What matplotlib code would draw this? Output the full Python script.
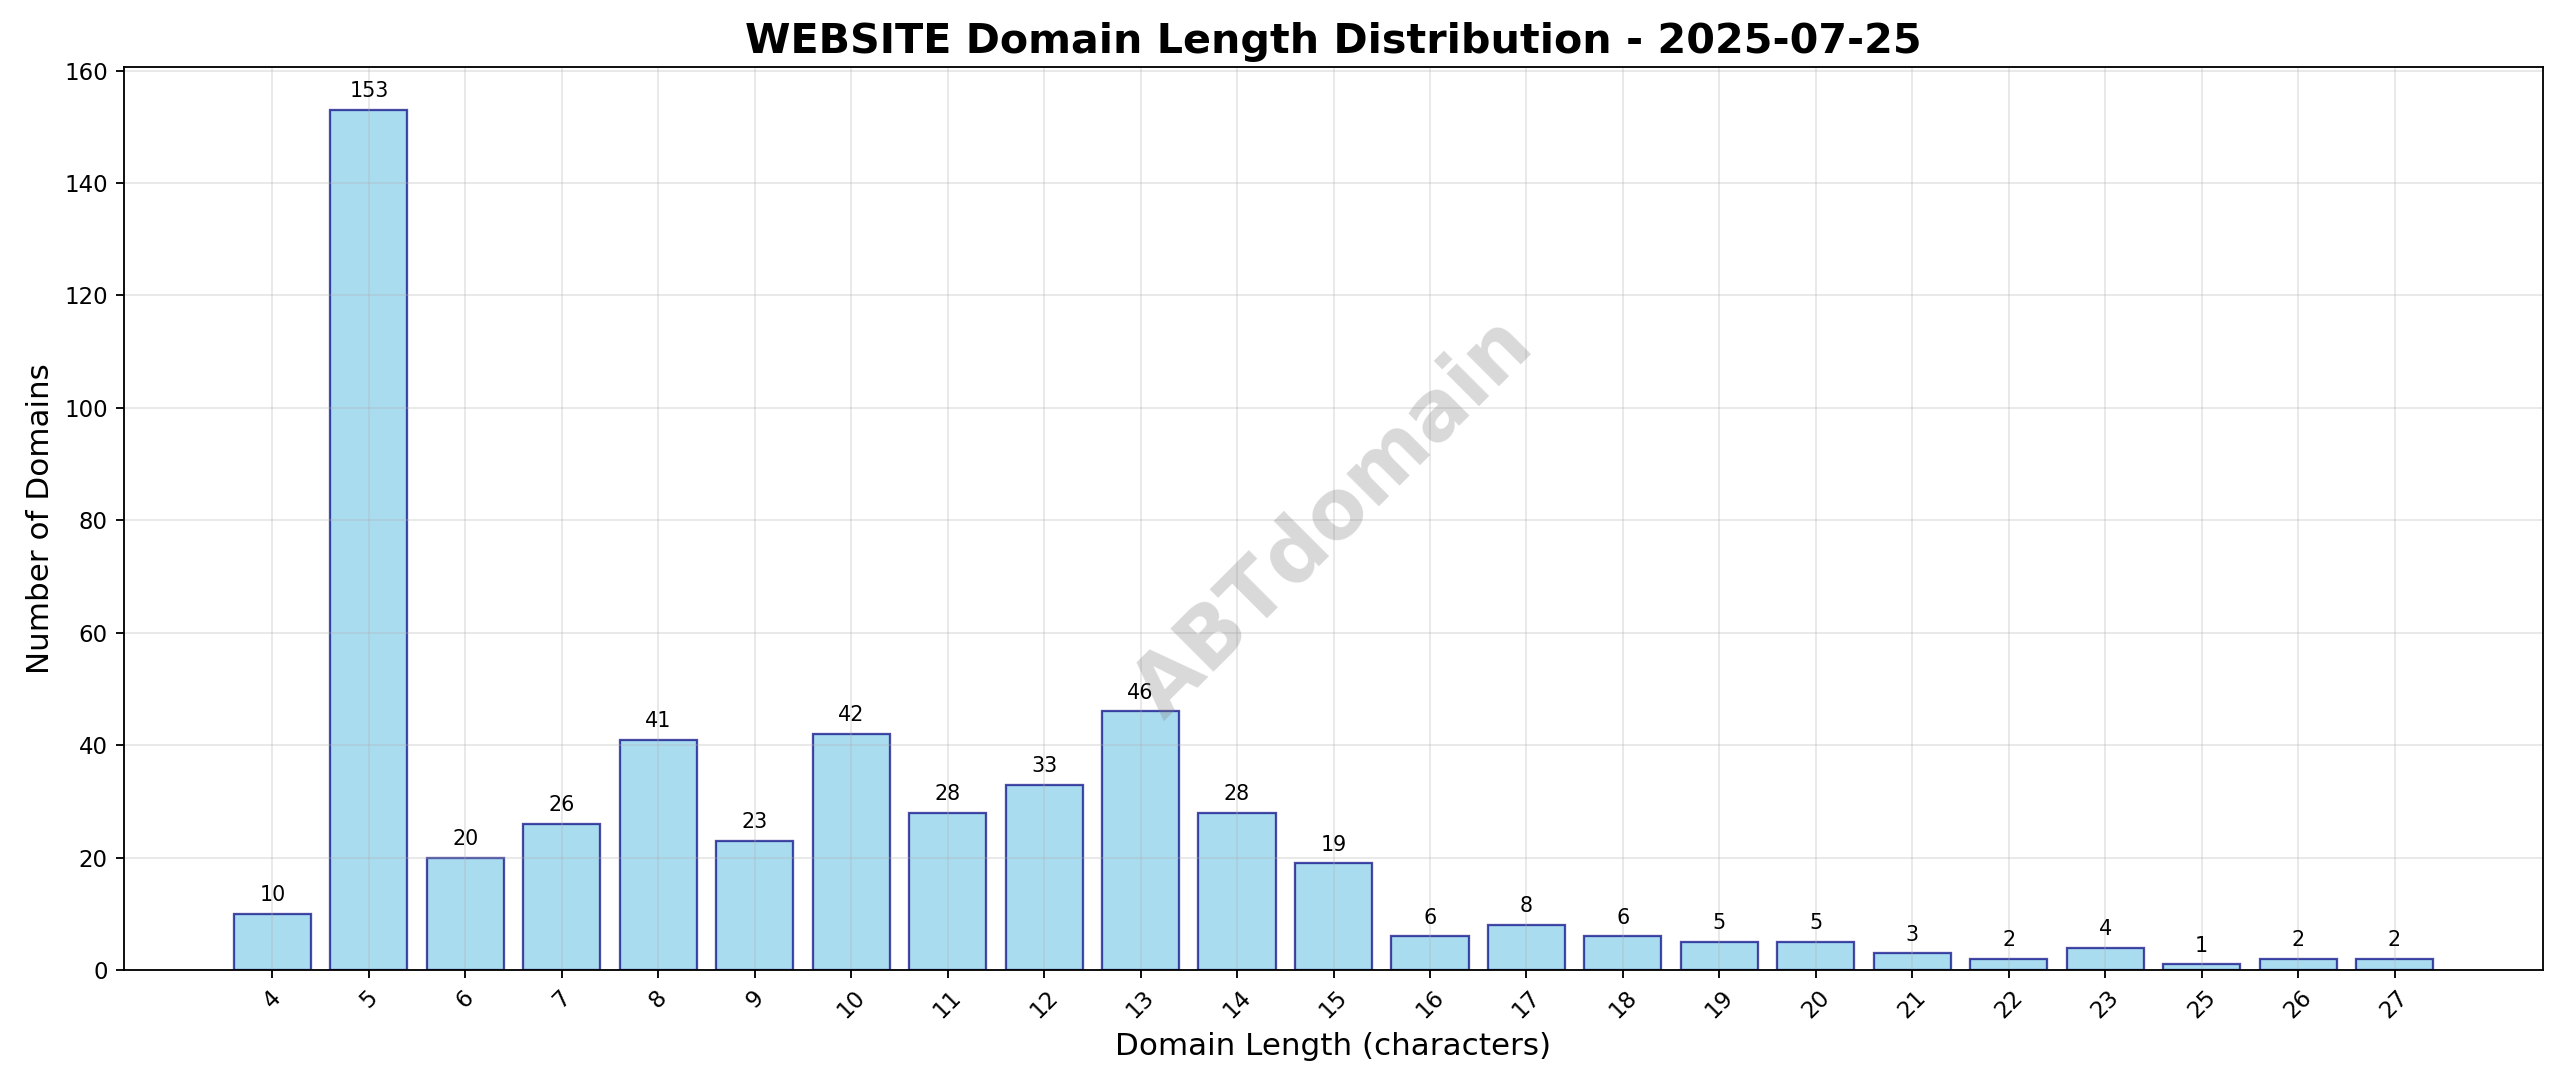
import matplotlib
matplotlib.use('Agg')
import matplotlib.pyplot as plt

# domain length -> number of domains
lengths = ['4', '5', '6', '7', '8', '9', '10', '11', '12', '13', '14', '15',
           '16', '17', '18', '19', '20', '21', '22', '23', '25', '26', '27']
counts = [10, 153, 20, 26, 41, 23, 42, 28, 33, 46, 28, 19,
          6, 8, 6, 5, 5, 3, 2, 4, 1, 2, 2]

title = 'WEBSITE Domain Length Distribution - 2025-07-25'
watermark = 'ABTdomain'

fig, ax = plt.subplots(figsize=(2560 / 165, 1087 / 165), dpi=165)
fig.subplots_adjust(left=0.0484, right=0.9934, top=0.9384, bottom=0.1076)

positions = range(len(lengths))
bars = ax.bar(positions, counts, color='skyblue', edgecolor='navy',
              alpha=0.7, linewidth=1)

for bar, v in zip(bars, counts):
    ax.text(bar.get_x() + bar.get_width() / 2, v + max(counts) * 0.01,
            str(v), ha='center', va='bottom', fontsize=9)

ax.set_xticks(list(positions))
ax.set_xticklabels(lengths, rotation=45)
ax.tick_params(labelsize=10)
ax.set_xlabel('Domain Length (characters)', fontsize=13.5)
ax.set_ylabel('Number of Domains', fontsize=13.5)
ax.set_title(title, fontsize=18, fontweight='bold')
ax.grid(True, alpha=0.3)

ax.text(0.5, 0.5, watermark, transform=ax.transAxes, fontsize=36,
        fontweight='bold', color='gray', alpha=0.3, rotation=45,
        ha='center', va='center')

fig.savefig('out.png', dpi=165)
